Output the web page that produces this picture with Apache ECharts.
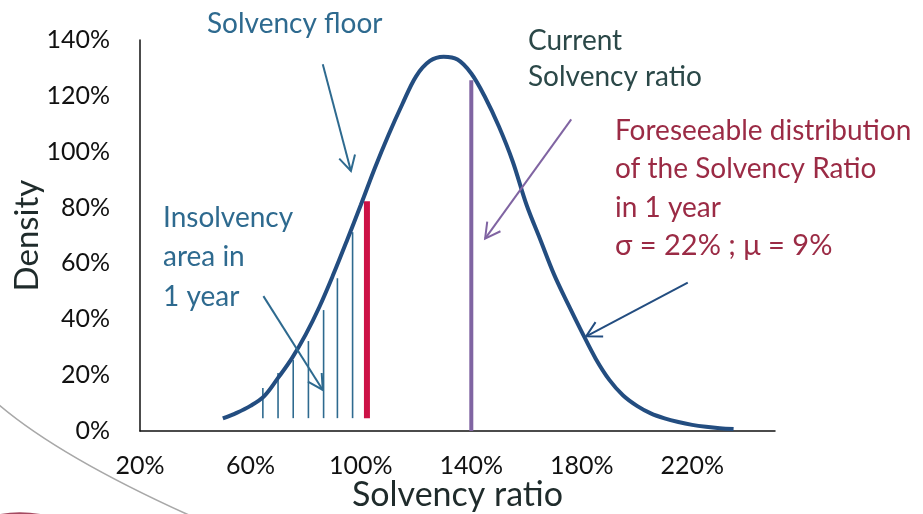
<!DOCTYPE html>
<html>
<head>
<meta charset="utf-8">
<script src="https://cdn.jsdelivr.net/npm/echarts@6/dist/echarts.min.js"></script>
<style>html,body{margin:0;padding:0;background:#fff}#c{width:923px;height:514px}</style>
</head>
<body>
<div id="c"></div>
<script>
// Distribution curve (x = solvency ratio %, y = density %)
var curveX = [50,55,60,65,70,75,80,85,90,95,100,105,110,115,120,125,130,135,140,145,150,155,160,165,170,175,180,185,190,195,200,205,210,215,220,225,230,235];
var curveY = [4.5,6.5,9,12.5,19,26,34.5,44.5,56,68.3,81,94,106,117,127,132.5,134,133,128,119.5,109,96.5,81,68.5,56,45.5,35.5,26,18.3,12.7,9,6.3,4.5,3.2,2.2,1.5,1.0,0.7];
// Insolvency-area hatching lines
var hatchX = [64.5,70,75.5,81,86.5,91.5,97];
var hatchTop = [15.4,20.8,25.4,32.2,43.3,54.7,71.2];
var hatchBase = 4.6;
// Solvency floor bar and current solvency ratio line
var floorX = 102.2, floorTop = 82.3;
var currentX = 140, currentTop = 125.6;
// Annotation arrows: [xFrom, yFrom, xTo, yTo]
var arrowFloor = [86.2,131.3,96.4,93.1];
var arrowInsolv = [64.7,48.3,86.2,14.7];
var arrowCurrent = [176.2,111.6,145,68.9];
var arrowDist = [218.4,53.1,181.6,33.9];
// Axis ticks
var xTicks = [20,60,100,140,180,220];
var yTicks = [0,20,40,60,80,100,120,140];

var curveData = curveX.map(function(x,i){return [x,curveY[i]];});
var hatchData = hatchX.map(function(x,i){return [x,hatchBase,hatchTop[i]];});

function vseg(color,width){
  return function(params,api){
    var a=api.coord([api.value(0),api.value(1)]);
    var b=api.coord([api.value(0),api.value(2)]);
    return {type:'line',shape:{x1:a[0],y1:a[1],x2:b[0],y2:b[1]},style:{stroke:color,lineWidth:width}};
  };
}
function arrowItem(color,width){
  return function(params,api){
    var a=api.coord([api.value(0),api.value(1)]);
    var b=api.coord([api.value(2),api.value(3)]);
    var ang=Math.atan2(b[1]-a[1],b[0]-a[0]);
    var L=17, w=0.5;
    var p1=[b[0]-L*Math.cos(ang-w), b[1]-L*Math.sin(ang-w)];
    var p2=[b[0]-L*Math.cos(ang+w), b[1]-L*Math.sin(ang+w)];
    return {type:'group',children:[
      {type:'line',shape:{x1:a[0],y1:a[1],x2:b[0],y2:b[1]},style:{stroke:color,lineWidth:width}},
      {type:'polyline',shape:{points:[p1,b,p2]},style:{stroke:color,lineWidth:width,fill:null}}
    ]};
  };
}

var FONT='Lato';
var blue='#2E6A8F', maroon='#9B2B45', slate='#2B4848';
function txt(s,x,y,color,size){
  return {type:'text',x:x,y:y,style:{text:s,fill:color,font:'normal '+size+'px '+FONT,textVerticalAlign:'middle',textAlign:'left'}};
}

var chart=echarts.init(document.getElementById('c'),null,{renderer:'canvas'});
chart.setOption({
  animation:false,
  backgroundColor:'#ffffff',
  grid:{left:140,right:148,top:40,bottom:83,containLabel:false,outerBoundsMode:'none'},
  xAxis:{type:'value',min:20,max:250,interval:40,
    name:'Solvency ratio',nameLocation:'middle',nameGap:47,nameMoveOverlap:false,
    nameTextStyle:{fontFamily:FONT,fontSize:34,color:'#1F2B2B'},
    axisLine:{lineStyle:{color:'#111',width:1.5}},axisTick:{show:false},splitLine:{show:false},
    axisLabel:{margin:22,fontFamily:FONT,fontSize:25,color:'#111',
      formatter:function(v){return xTicks.indexOf(v)>=0? v+'%':'';}}},
  yAxis:{type:'value',min:0,max:140,interval:20,
    name:'Density',nameLocation:'middle',nameGap:96,nameMoveOverlap:false,nameRotate:90,
    nameTextStyle:{fontFamily:FONT,fontSize:33,color:'#1F2B2B'},
    axisLine:{show:true,lineStyle:{color:'#111',width:1.5}},axisTick:{show:false},splitLine:{show:false},
    axisLabel:{margin:30,fontFamily:FONT,fontSize:25,color:'#111',
      formatter:function(v){return yTicks.indexOf(v)>=0? v+'%':'';}}},
  series:[
    {type:'custom',coordinateSystem:'cartesian2d',renderItem:vseg('#2E6A8F',1.6),data:hatchData,encode:{x:0,y:[1,2]},silent:true},
    {type:'custom',coordinateSystem:'cartesian2d',renderItem:vseg('#CC1246',6),data:[[floorX,hatchBase,floorTop]],encode:{x:0,y:[1,2]},silent:true},
    {type:'custom',coordinateSystem:'cartesian2d',renderItem:vseg('#8064A2',4),data:[[currentX,0,currentTop]],encode:{x:0,y:[1,2]},silent:true},
    {type:'line',data:curveData,smooth:0.35,showSymbol:false,lineStyle:{color:'#234D80',width:4},z:5},
    {type:'custom',coordinateSystem:'cartesian2d',renderItem:arrowItem(blue,2),data:[arrowFloor,arrowInsolv],encode:{x:[0,2],y:[1,3]},silent:true,z:6},
    {type:'custom',coordinateSystem:'cartesian2d',renderItem:arrowItem('#8064A2',2),data:[arrowCurrent],encode:{x:[0,2],y:[1,3]},silent:true,z:6},
    {type:'custom',coordinateSystem:'cartesian2d',renderItem:arrowItem('#234D80',2),data:[arrowDist],encode:{x:[0,2],y:[1,3]},silent:true,z:6}
  ],
  graphic:[
    {type:'bezierCurve',shape:{x1:-2,y1:404,cpx1:40,cpy1:440,cpx2:110,cpy2:480,x2:200,y2:520},style:{stroke:'#A8A8A8',lineWidth:1.6,fill:null},silent:true},
    {type:'bezierCurve',shape:{x1:-2,y1:516,cpx1:12,cpy1:513,cpx2:30,cpy2:513,x2:48,y2:517},style:{stroke:'#8E1D3A',lineWidth:3,fill:null,opacity:0.8},silent:true},
    txt('Solvency floor',207,24,blue,28),
    txt('Current',528,41,slate,28),
    txt('Solvency ratio',528,77,slate,28),
    txt('Foreseeable distribution',615,131,maroon,28),
    txt('of the Solvency Ratio',615,169,maroon,28),
    txt('in 1 year',615,208,maroon,28),
    txt('\u03c3 = 22% ; \u03bc = 9%',615,246,maroon,29),
    txt('Insolvency',163,218,blue,28),
    txt('area in',163,257,blue,28),
    txt('1 year',163,297,blue,28)
  ]
});
</script>
</body>
</html>
